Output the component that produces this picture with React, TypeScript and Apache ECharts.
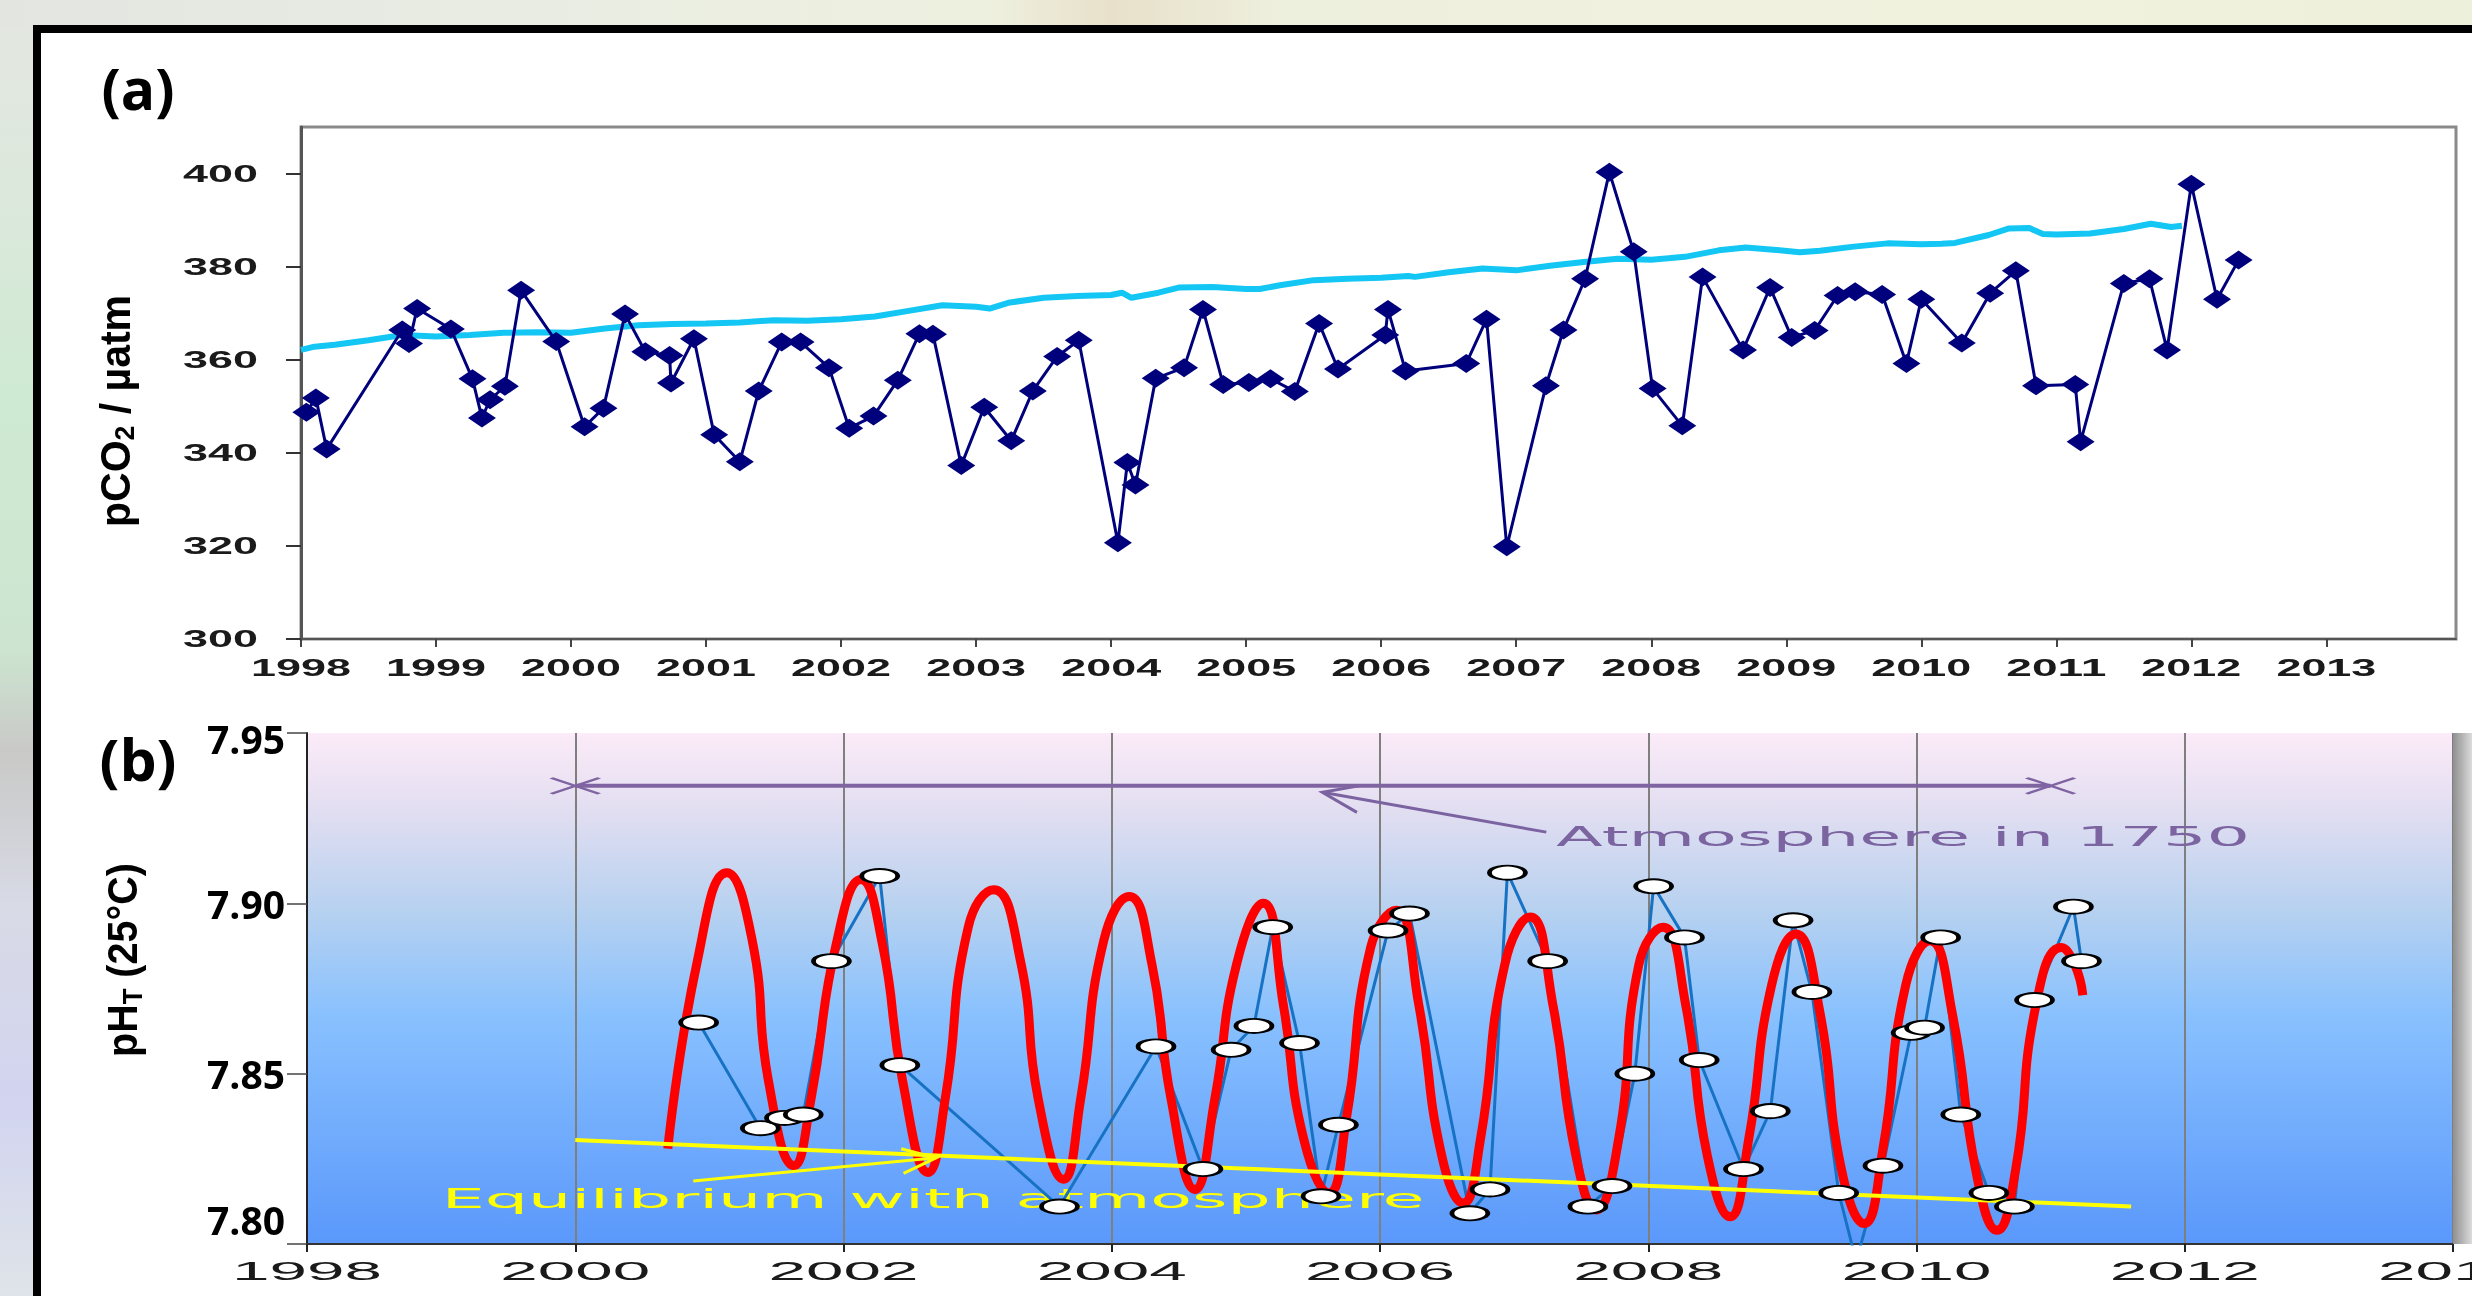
import React, { useEffect, useRef } from 'react';
import * as echarts from 'echarts';

const W = 2472;
const H = 1296;

// ---------- Panel (a): pCO2 ----------
const seaYears = [
  1998.04, 1998.11, 1998.19, 1998.75, 1998.8, 1998.86, 1999.11, 1999.27, 1999.34, 1999.4,
  1999.51, 1999.63, 1999.89, 2000.1, 2000.24, 2000.4, 2000.55, 2000.73, 2000.74, 2000.91,
  2001.06, 2001.25, 2001.39, 2001.56, 2001.7, 2001.91, 2002.06, 2002.24, 2002.42, 2002.58,
  2002.68, 2002.89, 2003.06, 2003.26, 2003.42, 2003.6, 2003.76, 2004.05, 2004.12, 2004.18,
  2004.33, 2004.54, 2004.68, 2004.83, 2005.02, 2005.18, 2005.36, 2005.54, 2005.68, 2006.03,
  2006.05, 2006.18, 2006.63, 2006.78, 2006.93, 2007.22, 2007.35, 2007.51, 2007.69, 2007.87,
  2008.01, 2008.23, 2008.38, 2008.68, 2008.88, 2009.04, 2009.21, 2009.38, 2009.51, 2009.71,
  2009.89, 2010.0, 2010.3, 2010.51, 2010.7, 2010.85, 2011.14, 2011.18, 2011.5, 2011.69,
  2011.82, 2012.0, 2012.19, 2012.35,
];
const seaPco2 = [
  348.7, 351.8, 340.8, 366.4, 363.5, 371.0, 366.6, 355.9, 347.5, 351.4,
  354.3, 374.9, 363.9, 345.6, 349.6, 369.8, 361.7, 360.9, 355.0, 364.5,
  343.9, 338.1, 353.3, 363.8, 363.8, 358.3, 345.3, 347.9, 355.6, 365.6,
  365.5, 337.3, 349.8, 342.6, 353.3, 360.7, 364.2, 320.7, 337.9, 333.1,
  356.0, 358.3, 370.8, 354.7, 355.1, 355.9, 353.2, 367.8, 358.0, 365.3,
  370.8, 357.6, 359.2, 368.7, 319.8, 354.4, 366.4, 377.4, 400.3, 383.2,
  353.8, 345.8, 377.8, 362.1, 375.5, 364.8, 366.3, 373.8, 374.6, 374.0,
  359.2, 373.0, 363.6, 374.3, 379.1, 354.4, 354.7, 342.4, 376.4, 377.4,
  362.1, 397.7, 373.0, 381.4,
];
const atmYears = [
  1998.0, 1998.1, 1998.25, 1998.5, 1998.75, 1999.0, 1999.25, 1999.5, 1999.75, 2000.0,
  2000.25, 2000.5, 2000.75, 2001.0, 2001.25, 2001.5, 2001.75, 2002.0, 2002.25, 2002.5,
  2002.75, 2003.0, 2003.1, 2003.25, 2003.5, 2003.75, 2004.0, 2004.08, 2004.15, 2004.35,
  2004.5, 2004.75, 2005.0, 2005.1, 2005.25, 2005.5, 2005.75, 2006.0, 2006.2, 2006.25,
  2006.5, 2006.75, 2007.0, 2007.25, 2007.5, 2007.75, 2008.0, 2008.25, 2008.5, 2008.7,
  2008.95, 2009.1, 2009.25, 2009.5, 2009.75, 2010.0, 2010.15, 2010.25, 2010.5, 2010.65,
  2010.8, 2010.9, 2011.0, 2011.25, 2011.5, 2011.7, 2011.85, 2011.93,
];
const atmPco2 = [
  362.1, 362.8, 363.2, 364.2, 365.3, 365.0, 365.3, 365.8, 365.9, 365.8,
  366.7, 367.4, 367.7, 367.8, 368.0, 368.5, 368.4, 368.7, 369.3, 370.5,
  371.7, 371.4, 371.0, 372.3, 373.3, 373.7, 373.9, 374.4, 373.3, 374.4,
  375.5, 375.6, 375.2, 375.2, 376.0, 377.1, 377.4, 377.6, 378.0, 377.8,
  378.8, 379.6, 379.2, 380.2, 381.0, 381.7, 381.5, 382.1, 383.5, 384.1,
  383.5, 383.1, 383.4, 384.3, 385.0, 384.8, 384.9, 385.1, 386.8, 388.2,
  388.3, 387.0, 386.9, 387.1, 388.1, 389.2, 388.5, 388.8,
];
const yearTicksA = [1998, 1999, 2000, 2001, 2002, 2003, 2004, 2005, 2006, 2007, 2008, 2009, 2010, 2011, 2012, 2013];
const pco2Ticks = [300, 320, 340, 360, 380, 400];

// ---------- Panel (b): pH ----------
const phYears = [
  2000.92, 2001.38, 2001.56, 2001.7, 2001.91, 2002.27, 2002.42, 2003.61, 2004.33, 2004.68,
  2004.89, 2005.06, 2005.2, 2005.4, 2005.56, 2005.69, 2006.06, 2006.22, 2006.67, 2006.82,
  2006.95, 2007.25, 2007.55, 2007.73, 2007.9, 2008.04, 2008.27, 2008.38, 2008.71, 2008.91,
  2009.08, 2009.22, 2009.42, 2009.55, 2009.75, 2009.96, 2010.06, 2010.18, 2010.33, 2010.54,
  2010.73, 2010.88, 2011.17, 2011.23,
];
const phValues = [
  7.865, 7.834, 7.837, 7.838, 7.883, 7.908, 7.8525, 7.811, 7.858, 7.822,
  7.857, 7.864, 7.893, 7.859, 7.814, 7.835, 7.892, 7.897, 7.809, 7.816,
  7.909, 7.883, 7.811, 7.817, 7.85, 7.905, 7.89, 7.854, 7.822, 7.839,
  7.895, 7.874, 7.815, 7.795, 7.823, 7.862, 7.8635, 7.89, 7.838, 7.815,
  7.811, 7.8716, 7.899, 7.883,
];
const fitYears = [
  2000.69, 2000.91, 2001.13, 2001.32, 2001.44, 2001.63, 2001.76, 2001.94, 2002.13, 2002.29,
  2002.44, 2002.63, 2002.76, 2002.93, 2003.12, 2003.32, 2003.45, 2003.64, 2003.77, 2003.94,
  2004.13, 2004.3, 2004.44, 2004.62, 2004.77, 2004.93, 2005.13, 2005.28, 2005.43, 2005.62,
  2005.75, 2005.93, 2006.12, 2006.29, 2006.46, 2006.62, 2006.75, 2006.93, 2007.12, 2007.29,
  2007.46, 2007.61, 2007.78, 2007.93, 2008.11, 2008.28, 2008.44, 2008.61, 2008.75, 2008.92,
  2009.1, 2009.28, 2009.44, 2009.61, 2009.75, 2009.92, 2010.1, 2010.27, 2010.45, 2010.6,
  2010.74, 2010.89, 2011.08, 2011.18, 2011.24,
];
const fitValues = [
  7.828, 7.883, 7.909, 7.889, 7.848, 7.823, 7.843, 7.887, 7.907, 7.888,
  7.848, 7.821, 7.843, 7.893, 7.904, 7.883, 7.843, 7.819, 7.843, 7.889,
  7.902, 7.882, 7.843, 7.816, 7.843, 7.882, 7.9, 7.87, 7.831, 7.815,
  7.837, 7.887, 7.898, 7.87, 7.826, 7.812, 7.831, 7.882, 7.896, 7.87,
  7.826, 7.81, 7.831, 7.882, 7.893, 7.87, 7.826, 7.808, 7.831, 7.876,
  7.891, 7.868, 7.822, 7.806, 7.828, 7.876, 7.889, 7.867, 7.82, 7.804,
  7.822, 7.87, 7.887, 7.882, 7.873,
];
const atm1750Years = [2000, 2011];
const atm1750Ph = [7.9345, 7.9345];
const eqYears = [2000, 2011.6];
const eqPh = [7.8305, 7.811];
const atmArrowYears = [2007.24, 2005.57];
const atmArrowPh = [7.9209, 7.9326];
const eqArrowYears = [2000.88, 2002.69];
const eqArrowPh = [7.8185, 7.8253];
const phTicks = [7.8, 7.85, 7.9, 7.95];
const yearTicksB = [1998, 2000, 2002, 2004, 2006, 2008, 2010, 2012, 2014];

const FA = "'Liberation Sans', Arial, Helvetica, sans-serif";
const FO = "'Open Sans', 'Liberation Sans', sans-serif";
const FD = "'DejaVu Sans', Verdana, sans-serif";

const zip = (xs: number[], ys: number[]) => xs.map((x, i) => [x, ys[i]]);

let measureCtx: CanvasRenderingContext2D | null = null;
function measure(text: string, size: number, weight: string, family: string) {
  if (!measureCtx) measureCtx = document.createElement('canvas').getContext('2d');
  measureCtx!.font = `${weight} ${size}px ${family}`;
  return measureCtx!.measureText(text).width || 1;
}

function textStyle(text: string, size: number, weight: string, family: string, color: string, align: string) {
  return {
    text,
    fill: color,
    fontSize: size,
    fontWeight: weight,
    fontFamily: family,
    align,
    verticalAlign: 'middle',
    textAlign: align,
    textVerticalAlign: 'middle',
  };
}

function stretchText(
  text: string, x: number, y: number,
  o: { size: number; weight: string; family: string; width: number; color: string; align: string; scaleY?: number; z?: number }
) {
  const w = measure(text, o.size, o.weight, o.family);
  return {
    type: 'text', x, y, z: o.z ?? 2, silent: true,
    scaleX: o.width / w, scaleY: o.scaleY ?? 1,
    style: textStyle(text, o.size, o.weight, o.family, o.color, o.align),
  };
}

// rotated title with a subscript part
function rotatedTitle(parts: [string, string, string], cx: number, cy: number, length: number, S: number, s: number, scaleY: number) {
  const w1 = measure(parts[0], S, 'bold', FA);
  const w2 = measure(parts[1], s, 'bold', FA);
  const w3 = measure(parts[2], S, 'bold', FA);
  const total = w1 + w2 + w3;
  const x0 = -total / 2;
  const subY = 0.347 * S + 0.12 * S - 0.347 * s;
  return {
    type: 'group', x: cx, y: cy, rotation: Math.PI / 2, scaleX: length / total, scaleY, z: 2, silent: true,
    children: [
      { type: 'text', x: x0, y: 0, z: 2, style: textStyle(parts[0], S, 'bold', FA, '#000', 'left') },
      { type: 'text', x: x0 + w1, y: subY, z: 2, style: textStyle(parts[1], s, 'bold', FA, '#000', 'left') },
      { type: 'text', x: x0 + w1 + w2, y: 0, z: 2, style: textStyle(parts[2], S, 'bold', FA, '#000', 'left') },
    ],
  };
}

function arrow(tail: number[], tip: number[], color: string, lw: number, len: number, ang: number) {
  const dx = tail[0] - tip[0];
  const dy = tail[1] - tip[1];
  const d = Math.hypot(dx, dy) || 1;
  const ux = dx / d;
  const uy = dy / d;
  const wing = (a: number) => [
    tip[0] + len * (ux * Math.cos(a) - uy * Math.sin(a)),
    tip[1] + len * (ux * Math.sin(a) + uy * Math.cos(a)),
  ];
  return [
    { type: 'polyline', z: 5, silent: true, shape: { points: [tail, tip] }, style: { stroke: color, lineWidth: lw, fill: null } },
    { type: 'polyline', z: 5, silent: true, shape: { points: [wing(ang), tip, wing(-ang)] }, style: { stroke: color, lineWidth: lw, fill: null } },
  ];
}

function buildOption() {
  const bgB = new echarts.graphic.LinearGradient(0, 0, 0, 1, [
    { offset: 0, color: '#FCEBF8' },
    { offset: 0.15, color: '#E2DEF1' },
    { offset: 0.35, color: '#B6D1F0' },
    { offset: 0.55, color: '#89C1FE' },
    { offset: 1, color: '#5A98FB' },
  ]);
  return {
    animation: false,
    backgroundColor: 'transparent',
    grid: [
      { left: 301, top: 127, width: 2155, height: 512, show: true, borderColor: '#8a8a8a', borderWidth: 3, backgroundColor: 'transparent', containLabel: false },
      { left: 307, top: 733, width: 2146, height: 511, show: true, borderWidth: 0, backgroundColor: bgB, containLabel: false },
    ],
    xAxis: [
      {
        gridIndex: 0, type: 'value', min: 1998, max: 2013.96, interval: 1,
        axisLine: { show: true, onZero: false, lineStyle: { color: '#555', width: 2 } },
        axisTick: { show: true, customValues: yearTicksA, length: 8, lineStyle: { color: '#444', width: 2 } },
        axisLabel: { show: false }, splitLine: { show: false },
      },
      {
        gridIndex: 1, type: 'value', min: 1998, max: 2014, interval: 2,
        axisLine: { show: true, onZero: false, lineStyle: { color: '#333', width: 2 } },
        axisTick: { show: true, length: 8, lineStyle: { color: '#222', width: 2 } },
        axisLabel: { show: false },
        splitLine: { show: true, lineStyle: { color: '#7f7f7f', width: 2 } },
      },
    ],
    yAxis: [
      {
        gridIndex: 0, type: 'value', min: 300, max: 410, interval: 20,
        axisLine: { show: true, onZero: false, lineStyle: { color: '#555', width: 3 } },
        axisTick: { show: true, customValues: pco2Ticks, length: 15, lineStyle: { color: '#333', width: 2 } },
        axisLabel: { show: false }, splitLine: { show: false },
      },
      {
        gridIndex: 1, type: 'value', min: 7.8, max: 7.95, interval: 0.05,
        axisLine: { show: true, onZero: false, lineStyle: { color: '#222', width: 2 } },
        axisTick: { show: true, length: 20, lineStyle: { color: '#444', width: 1.5 } },
        axisLabel: { show: false }, splitLine: { show: false },
      },
    ],
    series: [
      {
        name: 'Atmospheric pCO2', type: 'line', xAxisIndex: 0, yAxisIndex: 0, z: 3, silent: true,
        data: zip(atmYears, atmPco2), symbol: 'none', showSymbol: false,
        lineStyle: { color: '#13C6F4', width: 6 },
      },
      {
        name: 'Seawater pCO2', type: 'line', xAxisIndex: 0, yAxisIndex: 0, z: 4, silent: true,
        data: zip(seaYears, seaPco2), symbol: 'diamond', symbolSize: [28, 19],
        itemStyle: { color: '#00007C' }, lineStyle: { color: '#00007C', width: 3 },
      },
      {
        name: 'pH', type: 'line', xAxisIndex: 1, yAxisIndex: 1, z: 3, silent: true,
        data: zip(phYears, phValues), symbol: 'none', showSymbol: false,
        lineStyle: { color: '#1772C4', width: 3 },
      },
      {
        name: 'Seasonal fit', type: 'line', xAxisIndex: 1, yAxisIndex: 1, z: 4, silent: true,
        data: zip(fitYears, fitValues), symbol: 'none', showSymbol: false, smooth: 0.5,
        lineStyle: { color: '#FF0000', width: 9 },
      },
      {
        name: 'Equilibrium with atmosphere', type: 'line', xAxisIndex: 1, yAxisIndex: 1, z: 5, silent: true,
        data: zip(eqYears, eqPh), symbol: 'none', showSymbol: false,
        lineStyle: { color: '#FFFF00', width: 4 },
      },
      {
        name: 'Atmosphere in 1750', type: 'line', xAxisIndex: 1, yAxisIndex: 1, z: 5, silent: true,
        data: zip(atm1750Years, atm1750Ph), symbol: 'path://M0,0L10,10M10,0L0,10', symbolSize: [48, 16],
        itemStyle: { color: '#8064A2', borderColor: '#8064A2', borderWidth: 3 },
        lineStyle: { color: '#8064A2', width: 4 },
      },
      {
        name: 'pH points', type: 'scatter', xAxisIndex: 1, yAxisIndex: 1, z: 6, silent: true,
        data: zip(phYears, phValues), symbol: 'circle', symbolSize: [36, 14],
        itemStyle: { color: '#ffffff', borderColor: '#000000', borderWidth: 3, opacity: 1 },
      },
    ],
  };
}

export default function App() {
  const ref = useRef<HTMLDivElement>(null);
  useEffect(() => {
    const el = ref.current!;
    const chart = echarts.init(el, null, { renderer: 'svg', width: W, height: H });
    chart.setOption(buildOption() as any);

    const px = (axis: 'x' | 'y', idx: number, v: number) =>
      chart.convertToPixel(axis === 'x' ? { xAxisIndex: idx } : { yAxisIndex: idx }, v) as unknown as number;
    const pt = (idx: number, x: number, y: number) =>
      chart.convertToPixel({ gridIndex: idx }, [x, y]) as unknown as number[];

    const aBottom = px('y', 0, 300);
    const bTop = px('y', 1, 7.95);
    const bBottom = px('y', 1, 7.8);
    const bRight = px('x', 1, 2014);

    const elements: any[] = [];
    // page backdrop + frame
    elements.push({
      type: 'rect', z: -100, silent: true, shape: { x: 0, y: 0, width: W, height: H },
      style: {
        fill: new echarts.graphic.LinearGradient(0, 0, 0, 1, [
          { offset: 0, color: '#E4E7E1' },
          { offset: 0.15, color: '#DCE8DC' },
          { offset: 0.3, color: '#CFEAD3' },
          { offset: 0.5, color: '#CDE5D0' },
          { offset: 0.58, color: '#C9C9C7' },
          { offset: 0.7, color: '#D8DAE6' },
          { offset: 0.85, color: '#D2D4F0' },
          { offset: 1, color: '#DEE4E8' },
        ]),
      },
    });
    elements.push({
      type: 'rect', z: -99, silent: true, shape: { x: 0, y: 0, width: W, height: 30 },
      style: {
        fill: new echarts.graphic.LinearGradient(0, 0, 1, 0, [
          { offset: 0, color: '#E3E6E0' },
          { offset: 0.2, color: '#E9ECE3' },
          { offset: 0.4, color: '#EEF0DF' },
          { offset: 0.45, color: '#E8E0CA' },
          { offset: 0.52, color: '#EEF0DE' },
          { offset: 0.8, color: '#F1F2DE' },
          { offset: 1, color: '#EDF0DA' },
        ]),
      },
    });
    elements.push({
      type: 'rect', z: -98, silent: true, shape: { x: 37, y: 29, width: 2600, height: 1400 },
      style: { fill: '#ffffff', stroke: '#000000', lineWidth: 8 },
    });
    // right shadow of panel (b)
    elements.push({
      type: 'rect', z: 1, silent: true, shape: { x: bRight, y: bTop, width: W - bRight, height: bBottom - bTop },
      style: {
        fill: new echarts.graphic.LinearGradient(0, 0, 1, 0, [
          { offset: 0, color: '#8f8f8f' },
          { offset: 1, color: '#dcdcdc' },
        ]),
      },
    });

    // panel labels
    elements.push(stretchText('(a)', 138, 88, { size: 58, weight: 'bold', family: FO, width: 73, color: '#000', align: 'center' }));
    elements.push(stretchText('(b)', 138, 759, { size: 58, weight: 'bold', family: FO, width: 77, color: '#000', align: 'center' }));

    // axis titles
    elements.push(rotatedTitle(['pCO', '2', ' / µatm'], 115, 411, 232, 40, 26, 1.05));
    elements.push(rotatedTitle(['pH', 'T', ' (25°C)'], 123, 960, 194, 40, 26, 1.05));

    // tick labels (a)
    pco2Ticks.forEach((v) => {
      elements.push(stretchText(String(v), 258, px('y', 0, v), { size: 24, weight: 'bold', family: FA, width: 75, color: '#1a1a1a', align: 'right' }));
    });
    yearTicksA.forEach((v) => {
      elements.push(stretchText(String(v), px('x', 0, v), aBottom + 29, { size: 24, weight: 'bold', family: FA, width: 100, color: '#1a1a1a', align: 'center' }));
    });
    // tick labels (b)
    phTicks.forEach((v) => {
      const y = Math.min(Math.max(px('y', 1, v), bTop + 5), bBottom - 25);
      elements.push(stretchText(v.toFixed(2), 285, y, { size: 39, weight: 'bold', family: FO, width: 78, color: '#000', align: 'right' }));
    });
    yearTicksB.forEach((v) => {
      elements.push(stretchText(String(v), px('x', 1, v), bBottom + 27, { size: 25, weight: 'normal', family: FA, width: 150, color: '#1a1a1a', align: 'center' }));
    });

    // annotations
    elements.push(stretchText('Atmosphere in 1750', 1903, 837, { size: 26, weight: 'normal', family: FD, width: 694, color: '#7B64A0', align: 'center' }));
    elements.push(stretchText('Equilibrium with atmosphere', 933, 1199, { size: 26, weight: 'normal', family: FD, width: 983, color: '#FFFF00', align: 'center' }));
    arrow(
      pt(1, atmArrowYears[0], atmArrowPh[0]), pt(1, atmArrowYears[1], atmArrowPh[1]),
      '#7B62A0', 3, 40, (20 * Math.PI) / 180
    ).forEach((e) => elements.push(e));
    arrow(
      pt(1, eqArrowYears[0], eqArrowPh[0]), pt(1, eqArrowYears[1], eqArrowPh[1]),
      '#FFFF00', 3, 36, (20 * Math.PI) / 180
    ).forEach((e) => elements.push(e));

    chart.setOption({ graphic: { elements } } as any);
    return () => chart.dispose();
  }, []);
  return (
    <div
      ref={ref}
      style={{ position: 'fixed', left: 0, top: 0, width: W, height: H, overflow: 'hidden' }}
    />
  );
}
